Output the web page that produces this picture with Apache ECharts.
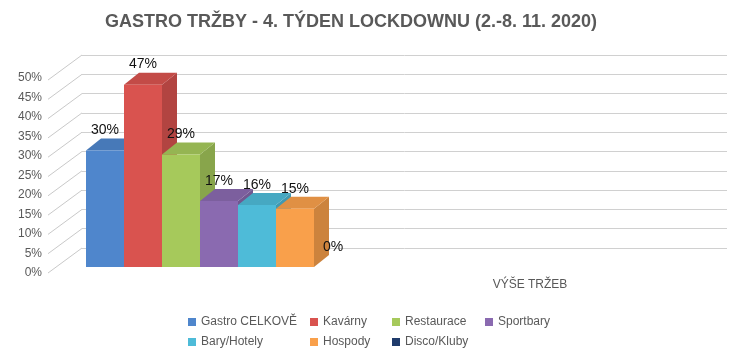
<!DOCTYPE html>
<html><head><meta charset="utf-8">
<script src="https://cdn.jsdelivr.net/npm/echarts@6/dist/echarts.min.js"></script>
<style>html,body{margin:0;padding:0;background:#fff}#c{width:743px;height:357px}</style>
</head><body><div id="c"></div>
<script>
const titleText = 'GASTRO TRŽBY - 4. TÝDEN LOCKDOWNU (2.-8. 11. 2020)';
const categories = ['VÝŠE TRŽEB'];
const seriesNames = ['Gastro CELKOVĚ','Kavárny','Restaurace','Sportbary','Bary/Hotely','Hospody','Disco/Kluby'];
const values = [30, 47, 29, 17, 16, 15, 0];
const colors = ['#4F86CC','#D9534F','#A6C95B','#8A6AB0','#4EBBD8','#F9A04B','#1F3B6B'];
const yTicks = [0,5,10,15,20,25,30,35,40,45,50];

const FONT = 'Liberation Sans';
const DX = 15, DY = -12;

function shade(hex, f){
  const n = parseInt(hex.slice(1),16);
  let r=(n>>16)&255,g=(n>>8)&255,b=n&255;
  r=Math.round(r*f);g=Math.round(g*f);b=Math.round(b*f);
  return 'rgb('+r+','+g+','+b+')';
}

const chart = echarts.init(document.getElementById('c'));

const barSeries = seriesNames.map((name, i) => ({
  name: name,
  type: 'custom',
  xAxisIndex: 2, yAxisIndex: 2,
  itemStyle: {color: colors[i]},
  data: [[i, values[i]]],
  encode: {x: 0, y: 1},
  renderItem: function(params, api){
    const idx = api.value(0), v = api.value(1);
    const a = api.coord([idx, 0]), b = api.coord([idx + 1, v]);
    const x0 = a[0], x1 = b[0], yb = a[1], yt = b[1];
    const c = colors[i];
    const children = [];
    if (v > 0) {
      children.push(
        {type: 'polygon', shape: {points: [[x1, yt],[x1+DX, yt+DY],[x1+DX, yb+DY],[x1, yb]]}, style: {fill: shade(c, 0.82)}},
        {type: 'polygon', shape: {points: [[x0, yt],[x0+DX, yt+DY],[x1+DX, yt+DY],[x1, yt]]}, style: {fill: shade(c, 0.9)}},
        {type: 'rect', shape: {x: x0, y: yt, width: x1 - x0, height: yb - yt}, style: {fill: c}}
      );
    }
    children.push({type: 'text', style: {text: v + '%', x: (x0 + x1) / 2, y: yt - 20, align: 'center', verticalAlign: 'middle', fill: '#111', font: '14px "' + FONT + '"'}});
    return {type: 'group', children: children};
  }
}));

const slantSeries = {
  type: 'custom', xAxisIndex: 0, yAxisIndex: 0, silent: true,
  data: yTicks.map(t => [0, t]),
  encode: {x: 0, y: 1},
  renderItem: function(params, api){
    const p = api.coord([0, api.value(1)]);
    return {type: 'line', shape: {x1: p[0] - 34, y1: p[1] + 25, x2: p[0], y2: p[1]}, style: {stroke: '#C9C9C9', lineWidth: 1}};
  }
};

const legendCols = [[0,4],[1,5],[2,6],[3]];
const legendLefts = [188, 310, 392, 485];

chart.setOption({
  animation: false,
  backgroundColor: '#fff',
  textStyle: {fontFamily: FONT},
  title: {text: titleText, left: 105, top: 13, padding: 0,
    textStyle: {fontFamily: FONT, fontWeight: 'bold', fontSize: 18, color: '#595959'}},
  legend: legendCols.map((col, k) => ({
    orient: 'vertical', left: legendLefts[k], top: 315, padding: 0,
    itemWidth: 8, itemHeight: 8, itemGap: 6, icon: 'rect',
    data: col.map(j => seriesNames[j]),
    textStyle: {fontFamily: FONT, fontSize: 12, color: '#595959', lineHeight: 14}
  })),
  grid: [
    {left: 82, right: 16, top: 55, bottom: 109},
    {left: 50, right: 16, top: 78, bottom: 84},
    {left: 86, width: 266, top: 73, bottom: 90},
    {left: 333, right: 16, top: 55, bottom: 86}
  ],
  xAxis: [
    {gridIndex: 0, type: 'value', min: 0, max: 1, show: false},
    {gridIndex: 1, type: 'value', min: 0, max: 1, show: false},
    {gridIndex: 2, type: 'value', min: 0, max: 7, show: false},
    {gridIndex: 3, type: 'category', data: categories,
      axisLine: {show: false}, axisTick: {show: false},
      axisLabel: {color: '#595959', fontSize: 12, margin: 8, fontFamily: FONT}}
  ],
  yAxis: [
    {gridIndex: 0, type: 'value', min: 0, max: 50, interval: 5,
      axisLabel: {show: false}, axisLine: {show: false}, axisTick: {show: false},
      splitLine: {lineStyle: {color: '#D0D0D0', width: 1}}},
    {gridIndex: 1, type: 'value', min: 0, max: 50, interval: 5,
      axisLine: {show: false}, axisTick: {show: false}, splitLine: {show: false},
      axisLabel: {formatter: '{value}%', color: '#595959', fontSize: 12, margin: 8, fontFamily: FONT}},
    {gridIndex: 2, type: 'value', min: 0, max: 50, show: false},
    {gridIndex: 3, type: 'value', min: 0, max: 50, show: false}
  ],
  series: [slantSeries].concat(barSeries)
});
</script>
</body></html>
